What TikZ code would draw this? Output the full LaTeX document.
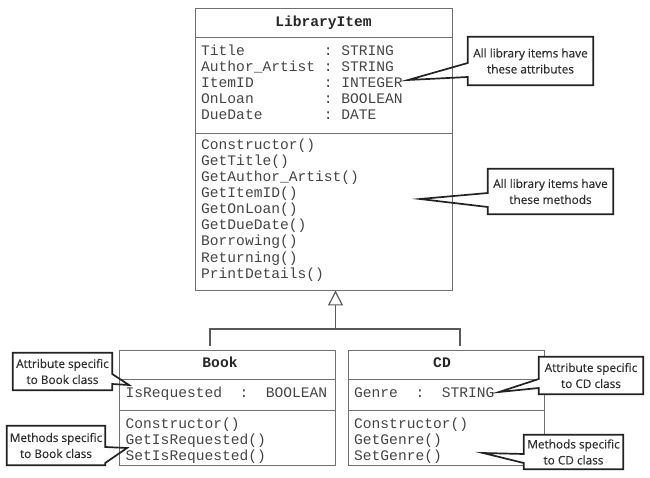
\documentclass[tikz,border=0pt]{standalone}
\usepackage{fontspec}
\setmonofont{Liberation Mono}
\newfontfamily\callfont[FakeBold=0.35]{Open Sans}
\usetikzlibrary{arrows.meta,calc}
\definecolor{boxgray}{HTML}{707070}
\definecolor{conngray}{HTML}{5A5A5A}
\definecolor{txt}{HTML}{444444}
\definecolor{ctxt}{HTML}{2E2E2E}
\definecolor{calledge}{HTML}{222222}
\begin{document}
\begin{tikzpicture}[x=1pt,y=-1pt,
  classbox/.style={draw=boxgray, line width=0.9pt, inner sep=0pt},
  sepline/.style={draw=boxgray, line width=0.9pt},
  mono/.style={font=\ttfamily\fontsize{14.6}{16}\selectfont, text=txt, inner sep=0pt, anchor=base west},
  ctitle/.style={font=\ttfamily\bfseries\fontsize{14.6}{16}\selectfont, text=black!85, inner sep=0pt, anchor=base},
  conn/.style={draw=conngray, line width=1.5pt},
  calltext/.style={font=\callfont\fontsize{11.8}{16}\selectfont, text=ctxt, align=center, inner sep=0pt, fill=white},
  callline/.style={draw=calledge, line width=1.7pt, line join=miter}
]
\useasboundingbox (0,0) rectangle (650,478);

% ---------- LibraryItem ----------
\node[classbox, minimum width=257pt, minimum height=282pt] (lib) at (323.5,149) {};
\draw[sepline] (lib.west |- 0,37) -- (lib.east |- 0,37);
\draw[sepline] (lib.west |- 0,133) -- (lib.east |- 0,133);
\node[ctitle] (libt) at (323.5,27) {LibraryItem};
\node[mono] (a1) at (201,56) {Title~~~~~~~~~:~STRING};
\node[mono] (a2) at (201,72) {Author\_Artist~:~STRING};
\node[mono] (a3) at (201,88) {ItemID~~~~~~~~:~INTEGER};
\node[mono] (a4) at (201,104) {OnLoan~~~~~~~~:~BOOLEAN};
\node[mono] (a5) at (201,120) {DueDate~~~~~~~:~DATE};
\foreach \t [count=\i] in {Constructor(),GetTitle(),GetAuthor\_Artist(),GetItemID(),GetOnLoan(),GetDueDate(),Borrowing(),Returning(),PrintDetails()}
  \node[mono] (m\i) at (201,{150+16*(\i-1)}) {\t};

% ---------- Book ----------
\node[classbox, minimum width=216pt, minimum height=115pt] (book) at (227,407.5) {};
\draw[sepline] (book.west |- 0,379) -- (book.east |- 0,379);
\draw[sepline] (book.west |- 0,410) -- (book.east |- 0,410);
\node[ctitle] (bookt) at (220,367) {Book};
\node[mono] (ba1) at (125.5,397) {IsRequested~~:~~BOOLEAN};
\node[mono] (bm1) at (125.5,428) {Constructor()};
\node[mono] (bm2) at (125.5,444) {GetIsRequested()};
\node[mono] (bm3) at (125.5,460) {SetIsRequested()};

% ---------- CD ----------
\node[classbox, minimum width=196pt, minimum height=115pt] (cd) at (446,407.5) {};
\draw[sepline] (cd.west |- 0,379) -- (cd.east |- 0,379);
\draw[sepline] (cd.west |- 0,410) -- (cd.east |- 0,410);
\node[ctitle] (cdt) at (442,367) {CD};
\node[mono] (ca1) at (354,397) {Genre~~:~~STRING};
\node[mono] (cm1) at (354,428) {Constructor()};
\node[mono] (cm2) at (354,444) {GetGenre()};
\node[mono] (cm3) at (354,460) {SetGenre()};

% ---------- inheritance ----------
\coordinate (hub) at (335.5,329);
\coordinate (bj) at (210,346);
\coordinate (cj) at (460,346);
\draw[conn, -{Triangle[open, length=15pt, width=15pt, line width=1.2pt]}] (hub) -- (lib.south -| hub);
\draw[conn] (bj) |- (hub) -| (cj);

% ---------- callouts ----------
\node[calltext, minimum width=125pt, minimum height=48pt] (c1) at (530.5,61) {All library items have\\these attributes};
\coordinate (t1) at (408,80);
\draw[callline] (c1.west |- 0,63) -- (c1.north west) -- (c1.north east) -- (c1.south east) -- (c1.south west) -- (c1.west |- 0,77) -- (t1) -- cycle;

\node[calltext, minimum width=125pt, minimum height=45pt] (c2) at (550.5,191.5) {All library items have\\these methods};
\coordinate (t2) at (420,199);
\draw[callline] (c2.west |- 0,193) -- (c2.north west) -- (c2.north east) -- (c2.south east) -- (c2.south west) -- (c2.west |- 0,207) -- (t2) -- cycle;

\node[calltext, minimum width=99pt, minimum height=37pt] (c3) at (62.5,371.5) {Attribute specific\\to Book class};
\coordinate (t3) at (129,385);
\draw[callline] (c3.east |- 0,374) -- (c3.north east) -- (c3.north west) -- (c3.south west) -- (c3.south east) -- (c3.east |- 0,384) -- (t3) -- cycle;

\node[calltext, minimum width=98pt, minimum height=39pt] (c4) at (56,445.5) {Methods specific\\to Book class};
\coordinate (t4) at (127,448);
\draw[callline] (c4.east |- 0,447) -- (c4.north east) -- (c4.north west) -- (c4.south west) -- (c4.south east) -- (c4.east |- 0,463) -- (t4) -- cycle;

\node[calltext, minimum width=104pt, minimum height=37pt] (c5) at (591,375.5) {Attribute specific\\to CD class};
\coordinate (t5) at (499,392);
\draw[callline] (c5.west |- 0,379) -- (c5.north west) -- (c5.north east) -- (c5.south east) -- (c5.south west) -- (c5.west |- 0,388) -- (t5) -- cycle;

\node[calltext, minimum width=99pt, minimum height=34pt] (c6) at (573.5,452) {Methods specific\\to CD class};
\coordinate (t6) at (483,453);
\draw[callline] (c6.west |- 0,454) -- (c6.north west) -- (c6.north east) -- (c6.south east) -- (c6.south west) -- (c6.west |- 0,463) -- (t6) -- cycle;
\end{tikzpicture}
\end{document}
